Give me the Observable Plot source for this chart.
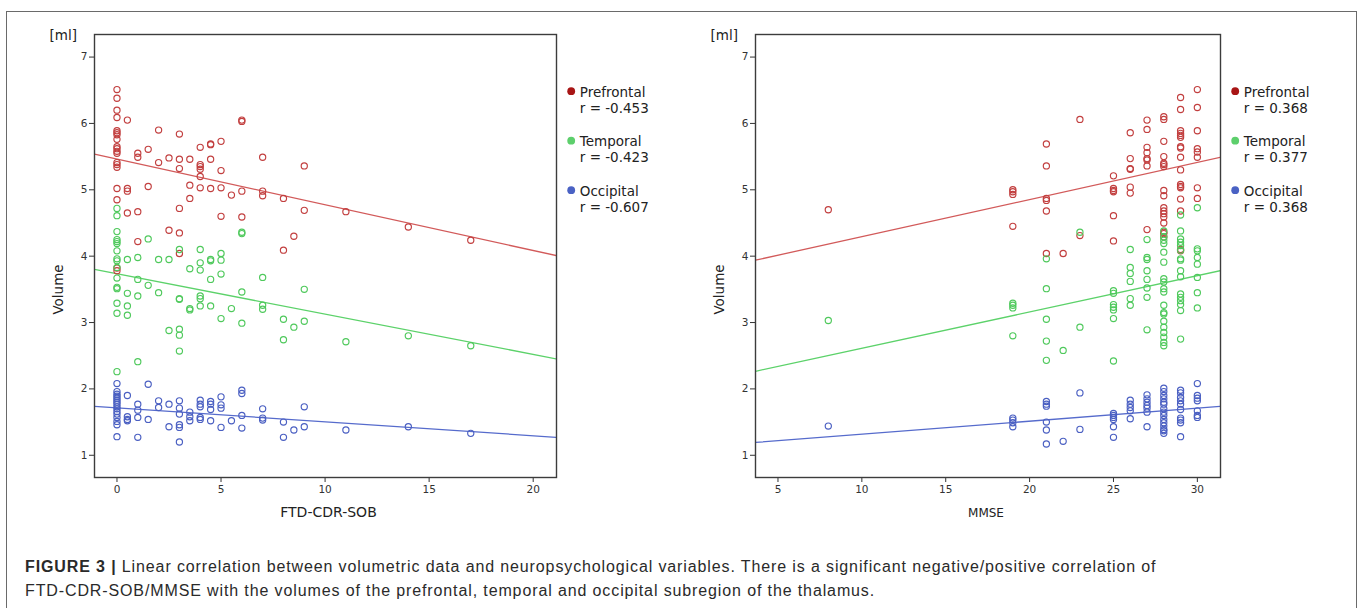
<!DOCTYPE html>
<html><head><meta charset="utf-8">
<script src="https://cdn.jsdelivr.net/npm/d3@7"></script>
<script src="https://cdn.jsdelivr.net/npm/@observablehq/plot@0.6"></script>
<style>
html,body{margin:0;padding:0;background:#fff}
body{width:1362px;height:608px;overflow:hidden;position:relative}
.abs{position:absolute}
#caption{left:25px;top:555px;font-family:"Liberation Sans",Arial,sans-serif;font-size:16px;letter-spacing:0.88px;line-height:24.4px;color:#2a2a2a;white-space:nowrap}
#caption b{font-weight:bold}
</style></head><body>
<div class="abs" style="left:6px;top:11px;width:1349px;height:700px;border:1px solid #6a6a6a"></div>
<div id="left" class="abs" style="left:0;top:0"></div>
<div id="right" class="abs" style="left:680px;top:0"></div>
<div id="caption" class="abs"><b>FIGURE 3 |</b> Linear correlation between volumetric data and neuropsychological variables. There is a significant negative/positive correlation of<br>FTD-CDR-SOB/MMSE with the volumes of the prefrontal, temporal and occipital subregion of the thalamus.</div>
<script>
// ---- categories & labels ----
const seriesNames = ["Prefrontal", "Temporal", "Occipital"];
const cdrRLabels = ["r = -0.453", "r = -0.423", "r = -0.607"];
const mmseRLabels = ["r = 0.368", "r = 0.377", "r = 0.368"];
const yTicks = [1, 2, 3, 4, 5, 6, 7];
const cdrTicks = [0, 5, 10, 15, 20];
const mmseTicks = [5, 10, 15, 20, 25, 30];
const yDomain = [0.665, 7.34];
const cdrDomain = [-1.08, 21.12];
const mmseDomain = [3.66, 31.38];

// regression fits: [intercept, slope]
const cdrFit = [[5.463, -0.0689], [3.734, -0.0607], [1.714, -0.021]];
const mmseFit = [[3.735, 0.0559], [2.065, 0.0547], [1.121, 0.0196]];

// ---- FTD-CDR-SOB panel: [x, [volumes]] ----
const cdrPrefrontal = [
  [0, [6.51, 6.38, 6.20, 6.09, 5.89, 5.86, 5.83, 5.76, 5.65, 5.62, 5.58, 5.55, 5.41, 5.38, 5.34, 5.02, 4.85, 3.82, 3.78]],
  [0.5, [6.05, 5.02, 4.98, 4.65]],
  [1, [5.55, 5.49, 4.67, 4.22]],
  [1.5, [5.61, 5.05]],
  [2, [5.90, 5.41]],
  [2.5, [5.48, 4.39]],
  [3, [5.84, 5.46, 5.32, 4.72, 4.35, 4.04]],
  [3.5, [5.46, 5.07, 4.87]],
  [4, [5.64, 5.38, 5.35, 5.31, 5.20, 5.03]],
  [4.5, [5.69, 5.68, 5.46, 5.02]],
  [5, [5.73, 5.29, 5.03, 4.60]],
  [5.5, [4.92]],
  [6, [6.05, 6.03, 4.98, 4.59]],
  [7, [5.49, 4.98, 4.91]],
  [8, [4.87, 4.09]],
  [8.5, [4.30]],
  [9, [5.36, 4.69]],
  [11, [4.67]],
  [14, [4.44]],
  [17, [4.24]]
];
const cdrTemporal = [
  [0, [4.72, 4.61, 4.37, 4.25, 4.22, 4.19, 4.08, 3.96, 3.93, 3.83, 3.67, 3.53, 3.51, 3.29, 3.14, 2.26]],
  [0.5, [3.95, 3.44, 3.25, 3.11]],
  [1, [3.98, 3.65, 3.40, 2.41]],
  [1.5, [4.26, 3.56]],
  [2, [3.95, 3.45]],
  [2.5, [3.95, 2.88]],
  [3, [4.10, 3.36, 3.35, 2.90, 2.81, 2.57]],
  [3.5, [3.81, 3.21, 3.19]],
  [4, [4.10, 3.90, 3.79, 3.40, 3.36, 3.25]],
  [4.5, [3.95, 3.93, 3.65, 3.25]],
  [5, [4.04, 3.94, 3.73, 3.06]],
  [5.5, [3.21]],
  [6, [4.36, 4.34, 3.46, 2.99]],
  [7, [3.68, 3.26, 3.20]],
  [8, [3.05, 2.74]],
  [8.5, [2.93]],
  [9, [3.50, 3.02]],
  [11, [2.71]],
  [14, [2.80]],
  [17, [2.65]]
];
const cdrOccipital = [
  [0, [2.08, 1.96, 1.92, 1.89, 1.86, 1.83, 1.80, 1.77, 1.73, 1.70, 1.66, 1.62, 1.57, 1.51, 1.46, 1.28]],
  [0.5, [1.90, 1.58, 1.54, 1.52]],
  [1, [1.77, 1.68, 1.57, 1.27]],
  [1.5, [2.07, 1.54]],
  [2, [1.82, 1.72]],
  [2.5, [1.77, 1.43]],
  [3, [1.82, 1.71, 1.62, 1.46, 1.42, 1.20]],
  [3.5, [1.65, 1.58, 1.52]],
  [4, [1.83, 1.77, 1.73, 1.57, 1.54]],
  [4.5, [1.81, 1.77, 1.69, 1.52]],
  [5, [1.88, 1.76, 1.71, 1.42]],
  [5.5, [1.52]],
  [6, [1.98, 1.93, 1.60, 1.41]],
  [7, [1.70, 1.56, 1.53]],
  [8, [1.50, 1.27]],
  [8.5, [1.38]],
  [9, [1.73, 1.43]],
  [11, [1.38]],
  [14, [1.43]],
  [17, [1.33]]
];

// ---- MMSE panel: [x, [volumes]] ----
const mmsePrefrontal = [
  [8, [4.70]],
  [19, [5.00, 4.97, 4.93, 4.45]],
  [21, [5.69, 5.36, 4.87, 4.84, 4.68, 4.04]],
  [22, [4.04]],
  [23, [6.06, 4.31]],
  [25, [5.21, 5.02, 4.99, 4.97, 4.61, 4.23]],
  [26, [5.86, 5.47, 5.32, 5.31, 5.04, 4.95]],
  [27, [6.05, 5.91, 5.64, 5.56, 5.47, 5.45, 5.36, 4.40]],
  [28, [6.10, 6.06, 5.73, 5.50, 5.40, 5.38, 5.35, 4.99, 4.91, 4.73, 4.68, 4.64, 4.59, 4.50, 4.36, 4.34, 4.29]],
  [29, [6.39, 6.21, 5.89, 5.85, 5.82, 5.79, 5.65, 5.63, 5.49, 5.30, 5.08, 5.05, 5.03, 4.86, 4.68, 4.10, 4.08]],
  [30, [6.51, 6.24, 5.89, 5.62, 5.57, 5.49, 5.03, 4.87]]
];
const mmseTemporal = [
  [8, [3.03]],
  [19, [3.29, 3.26, 3.22, 2.80]],
  [21, [3.96, 3.51, 3.05, 2.72, 2.43]],
  [22, [2.58]],
  [23, [4.36, 2.93]],
  [25, [3.48, 3.44, 3.27, 3.23, 3.19, 3.06, 2.42]],
  [26, [4.10, 3.83, 3.74, 3.62, 3.36, 3.26]],
  [27, [4.25, 3.98, 3.95, 3.78, 3.65, 3.52, 3.38, 2.89]],
  [28, [4.38, 4.29, 4.24, 4.19, 4.06, 3.91, 3.66, 3.61, 3.51, 3.46, 3.26, 3.15, 3.13, 3.02, 2.93, 2.85, 2.78, 2.70, 2.65]],
  [29, [4.62, 4.38, 4.26, 4.21, 4.16, 4.09, 3.96, 3.94, 3.78, 3.69, 3.43, 3.38, 3.33, 3.27, 3.18, 2.75]],
  [30, [4.73, 4.11, 4.08, 3.98, 3.88, 3.68, 3.45, 3.22]]
];
const mmseOccipital = [
  [8, [1.44]],
  [19, [1.56, 1.53, 1.49, 1.43]],
  [21, [1.81, 1.77, 1.74, 1.50, 1.38, 1.17]],
  [22, [1.21]],
  [23, [1.94, 1.39]],
  [25, [1.63, 1.60, 1.57, 1.54, 1.43, 1.27]],
  [26, [1.83, 1.77, 1.72, 1.67, 1.55]],
  [27, [1.91, 1.85, 1.80, 1.75, 1.71, 1.65, 1.43]],
  [28, [2.01, 1.96, 1.90, 1.85, 1.80, 1.77, 1.70, 1.65, 1.60, 1.54, 1.49, 1.44, 1.39, 1.37, 1.33]],
  [29, [1.98, 1.94, 1.87, 1.82, 1.77, 1.69, 1.56, 1.53, 1.49, 1.28]],
  [30, [2.08, 1.90, 1.86, 1.82, 1.67, 1.60, 1.57]]
];

// ---- styles ----
const dotColors = ["#c23f3f", "#4fc95c", "#4a5fc2"];
const lineColors = ["#d25a5a", "#5cd26a", "#566bcc"];
const legendColors = ["#a81515", "#5dcf6c", "#4a62c4"];
const FONT = "DejaVu Sans, Verdana, sans-serif";

function flatten(groups) {
  return groups.flatMap(([x, ys]) => ys.map(y => ({x, y})));
}

function panel({series, fit, xDomain, xTicks, rLabels, xLabel, xLabelSize, xLabelDx, width, marginLeft, marginRight}) {
  const marginTop = 34, marginBottom = 53, height = 530;
  const marks = [];
  series.forEach((groups, i) => {
    const [a, b] = fit[i];
    const line = xDomain.map(x => ({x, y: a + b * x}));
    marks.push(Plot.line(line, {x: "x", y: "y", stroke: lineColors[i], strokeWidth: 1.3, clip: true}));
  });
  series.forEach((groups, i) => {
    marks.push(Plot.dot(flatten(groups), {x: "x", y: "y", r: 3.1, stroke: dotColors[i], strokeWidth: 1.15, fill: "none", clip: true}));
  });
  marks.push(Plot.axisX({ticks: xTicks, tickSize: 5, tickPadding: 3, label: null, tickFormat: d => String(d)}));
  marks.push(Plot.axisY({ticks: yTicks, tickSize: 5, tickPadding: 2, label: null, tickFormat: d => String(d)}));
  marks.push(Plot.frame({stroke: "#3c3c3c", strokeWidth: 1.4}));
  // unit label
  marks.push(Plot.text(["[ml]"], {frameAnchor: "top-left", dx: -45, dy: 1.5, textAnchor: "start", lineAnchor: "middle", fontSize: 13.5, fill: "#222"}));
  // y label (centre of the text at y = 289)
  marks.push(Plot.text(["Volume"], {frameAnchor: "top-left", rotate: -90, dx: -36, dy: 255, textAnchor: "middle", lineAnchor: "middle", fontSize: 13.5, fill: "#222"}));
  // x label
  marks.push(Plot.text([xLabel], {frameAnchor: "bottom", dx: xLabelDx, dy: 35.5, textAnchor: "middle", lineAnchor: "middle", fontSize: xLabelSize, fill: "#222"}));
  // legend
  const fs = 13.5;
  seriesNames.forEach((name, i) => {
    const base = 96 + i * 49.5 - marginTop;
    marks.push(Plot.dot([name], {frameAnchor: "top-right", dx: 14.7, dy: base - 5.3, r: 3.9, fill: legendColors[i], stroke: "none"}));
    marks.push(Plot.text([name], {frameAnchor: "top-right", dx: 23.3, dy: base - 0.32 * fs, textAnchor: "start", lineAnchor: "middle", fontSize: fs, fill: "#222"}));
    marks.push(Plot.text([rLabels[i]], {frameAnchor: "top-right", dx: 23.3, dy: base + 16.2 - 0.32 * fs, textAnchor: "start", lineAnchor: "middle", fontSize: fs, fill: "#222"}));
  });
  return Plot.plot({
    width, height, marginLeft, marginRight, marginTop, marginBottom,
    x: {domain: xDomain},
    y: {domain: yDomain},
    style: {fontFamily: FONT, fontSize: "10.5px", color: "#333", background: "transparent", overflow: "visible"},
    marks
  });
}

document.getElementById("left").appendChild(panel({
  series: [cdrPrefrontal, cdrTemporal, cdrOccipital], fit: cdrFit,
  xDomain: cdrDomain, xTicks: cdrTicks, rLabels: cdrRLabels,
  xLabel: "FTD-CDR-SOB", xLabelSize: 14, xLabelDx: 3,
  width: 680, marginLeft: 94, marginRight: 124
}));
document.getElementById("right").appendChild(panel({
  series: [mmsePrefrontal, mmseTemporal, mmseOccipital], fit: mmseFit,
  xDomain: mmseDomain, xTicks: mmseTicks, rLabels: mmseRLabels,
  xLabel: "MMSE", xLabelSize: 12, xLabelDx: -2,
  width: 682, marginLeft: 75, marginRight: 142
}));
</script>
</body></html>
